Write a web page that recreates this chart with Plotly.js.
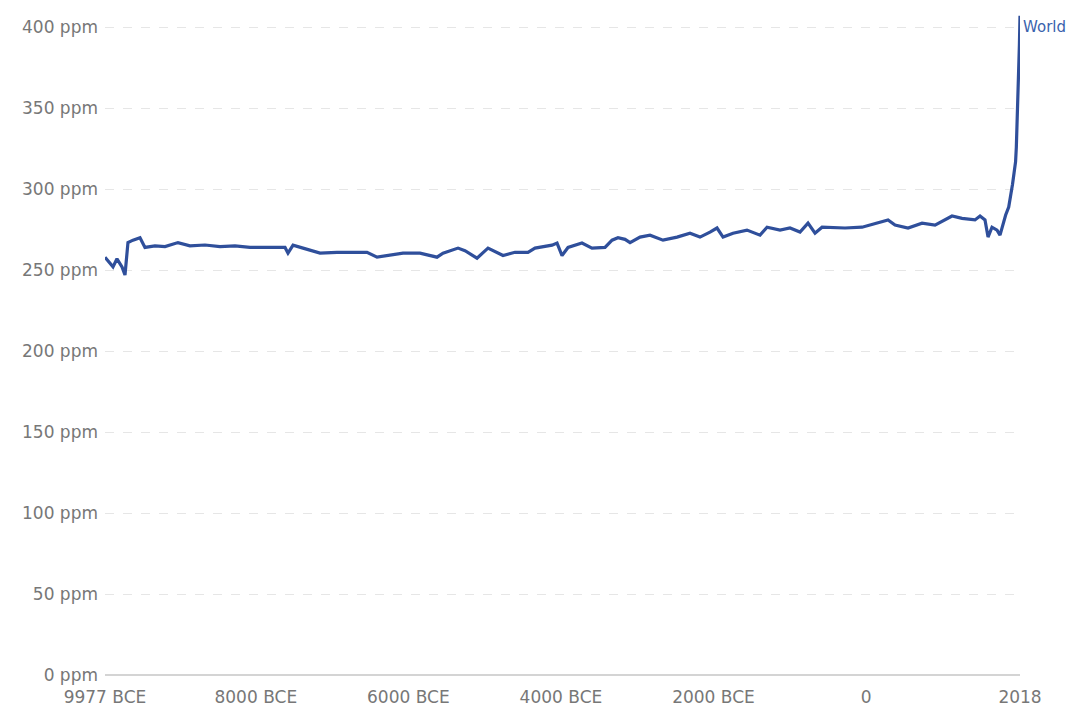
<!DOCTYPE html>
<html>
<head>
<meta charset="utf-8">
<script src="https://cdn.plot.ly/plotly-3.0.1.min.js"></script>
<style>html,body{margin:0;padding:0;background:#fff;}#chart{width:1073px;height:713px;}</style>
</head>
<body>
<div id="chart"></div>
<script>
var years = [-9977,-9872,-9820,-9754,-9715,-9676,-9610,-9518,-9453,-9322,-9190,-9020,-8863,-8666,-8469,-8273,-8076,-7879,-7709,
  -7617,-7578,-7512,-7381,-7158,-6936,-6765,-6542,-6411,-6280,-6070,-5848,-5625,-5546,
  -5349,-5258,-5100,-4956,-4759,-4602,-4432,-4340,-4117,-4051,-3986,-3907,-3724,-3593,-3422,-3330,-3252,-3160,
  -3094,-2963,-2832,-2662,-2478,-2308,-2177,-2046,-1954,-1875,-1744,-1561,-1390,-1298,-1128,-997,-866,
  -761,-669,-577,-276,-53,157,288,380,550,734,904,1127,1258,1428,
  1494,1559,1599,1651,1717,1756,1795,1830,1870,1900,1920,1940,1960,1970,1980,1990,2000,2010,2018];
var co2 = [258,252,257,252,247,267,268.5,270,264,265,264.5,267,265,265.5,264.5,265,264,264,264,
  264,260.5,265.4,263.6,260.5,261,261,261,258,259,260.5,260.5,258,260.5,
  263.6,262,257.4,263.6,259,261,261,263.6,265.4,266.7,259,264,266.7,263.6,264,268.5,270,269,
  267,270.4,271.6,268.5,270.4,272.8,270.4,273.5,276,270.4,272.8,274.7,271.6,276.5,274.7,276,273.5,
  279,272.8,276.5,276,276.5,279,281,277.8,276,279,277.8,283.4,282,281,
  283.4,281,270.4,276.5,274.7,271.6,279,284,289,296,303,310,317,326,339,354,369,389,407];
var tickVals = [-9977,-8000,-6000,-4000,-2000,0,2018];
var tickText = ['9977 BCE','8000 BCE','6000 BCE','4000 BCE','2000 BCE','0','2018'];
var yTicks = [0,50,100,150,200,250,300,350,400];
var yTickText = ['0 ppm','50 ppm','100 ppm','150 ppm','200 ppm','250 ppm','300 ppm','350 ppm','400 ppm'];
var seriesName = 'World';

var lineColor = '#2f4f9b';
var fam = 'DejaVu Sans, Liberation Sans, Arial, sans-serif';
Plotly.newPlot('chart', [{
  x: years, y: co2, type: 'scatter', mode: 'lines', name: seriesName,
  line: {color: lineColor, width: 3.2}
}], {
  width: 1073, height: 713,
  margin: {l: 105, r: 53, t: 11, b: 38},
  paper_bgcolor: '#fff', plot_bgcolor: '#fff',
  showlegend: false,
  font: {family: fam, size: 17, color: '#777'},
  xaxis: {
    range: [-9977, 2018], tickvals: tickVals, ticktext: tickText,
    showgrid: false, zeroline: false, showline: false, ticks: '',
    tickfont: {family: fam, size: 17, color: '#777'}, ticklabelstandoff: 10
  },
  yaxis: {
    range: [0, 410], tickvals: yTicks, ticktext: yTickText,
    showgrid: true, gridcolor: '#e6e6e6', griddash: 'dash', gridwidth: 1,
    zeroline: true, zerolinecolor: '#d4d4d4', zerolinewidth: 2,
    showline: false, ticks: '', tickfont: {family: fam, size: 17, color: '#777'}, ticklabelstandoff: 6
  },
  annotations: [{
    x: years[years.length-1], y: co2[co2.length-1], xref: 'x', yref: 'y',
    text: seriesName, showarrow: false, xanchor: 'left', yanchor: 'top', xshift: 1,
    font: {size: 15, color: '#3a62ad', family: fam}
  }]
}, {staticPlot: true});
</script>
</body>
</html>
